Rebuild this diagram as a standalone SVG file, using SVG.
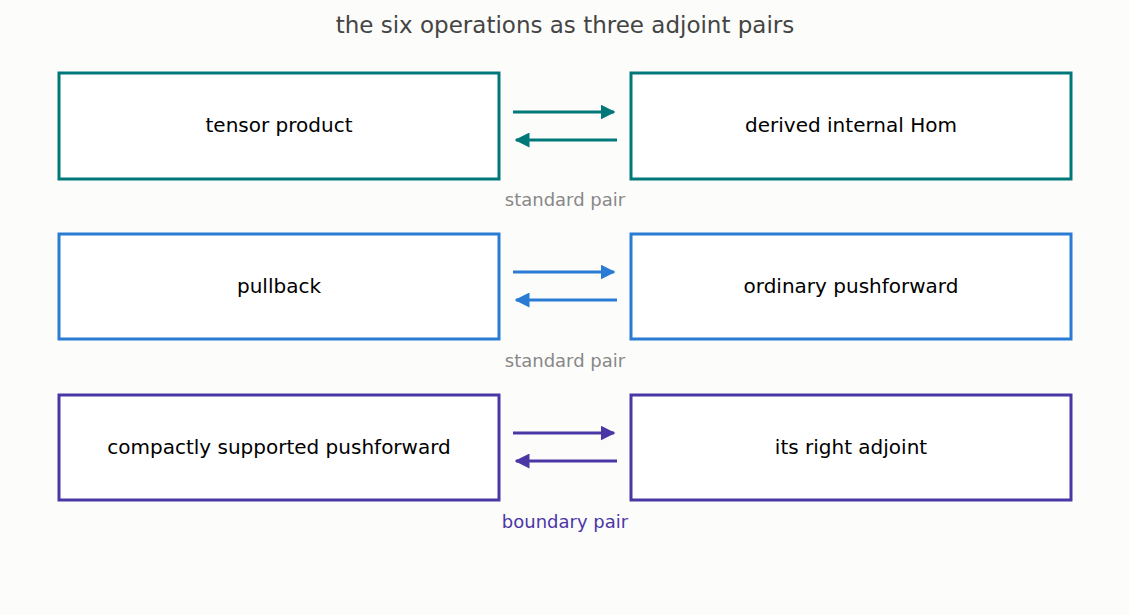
<svg xmlns="http://www.w3.org/2000/svg" width="1129" height="615" viewBox="0 0 1129 615">
<style>
text{font-family:"DejaVu Sans",sans-serif;text-anchor:middle}
.n{font-size:20px;fill:#000}
.l{font-size:18px;fill:#888}
rect{fill:#fff;stroke-width:3}
line{stroke-width:3}
</style>
<defs>
<marker id="mt" viewBox="0 0 10 10" refX="9" refY="5" markerWidth="5" markerHeight="5" orient="auto"><path d="M0,0L10,5L0,10z" fill="#00787a"/></marker>
<marker id="mb" viewBox="0 0 10 10" refX="9" refY="5" markerWidth="5" markerHeight="5" orient="auto"><path d="M0,0L10,5L0,10z" fill="#2a7bd4"/></marker>
<marker id="mp" viewBox="0 0 10 10" refX="9" refY="5" markerWidth="5" markerHeight="5" orient="auto"><path d="M0,0L10,5L0,10z" fill="#4b36a6"/></marker>
</defs>
<rect x="0" y="0" width="1129" height="615" style="fill:#fcfcfa;stroke:none"/>
<text x="565" y="33" style="font-size:23px;fill:#444">the six operations as three adjoint pairs</text>
<g id="n1"><rect x="59" y="73" width="440" height="106" stroke="#00787a"/><text class="n" x="279" y="132">tensor product</text></g>
<g id="n2"><rect x="631" y="73" width="440" height="106" stroke="#00787a"/><text class="n" x="851" y="132">derived internal Hom</text></g>
<g id="n3"><rect x="59" y="234" width="440" height="105" stroke="#2a7bd4"/><text class="n" x="279" y="293">pullback</text></g>
<g id="n4"><rect x="631" y="234" width="440" height="105" stroke="#2a7bd4"/><text class="n" x="851" y="293">ordinary pushforward</text></g>
<g id="n5"><rect x="59" y="395" width="440" height="105" stroke="#4b36a6"/><text class="n" x="279" y="454">compactly supported pushforward</text></g>
<g id="n6"><rect x="631" y="395" width="440" height="105" stroke="#4b36a6"/><text class="n" x="851" y="454">its right adjoint</text></g>
<g id="connectors">
<line x1="513" y1="112" x2="614" y2="112" stroke="#00787a" marker-end="url(#mt)"/>
<line x1="617" y1="140" x2="516" y2="140" stroke="#00787a" marker-end="url(#mt)"/>
<line x1="513" y1="272" x2="614" y2="272" stroke="#2a7bd4" marker-end="url(#mb)"/>
<line x1="617" y1="300" x2="516" y2="300" stroke="#2a7bd4" marker-end="url(#mb)"/>
<line x1="513" y1="433" x2="614" y2="433" stroke="#4b36a6" marker-end="url(#mp)"/>
<line x1="617" y1="461" x2="516" y2="461" stroke="#4b36a6" marker-end="url(#mp)"/>
<text class="l" x="565" y="206">standard pair</text>
<text class="l" x="565" y="367">standard pair</text>
<text class="l" x="565" y="528" style="fill:#4b36a6">boundary pair</text>
</g>
</svg>
